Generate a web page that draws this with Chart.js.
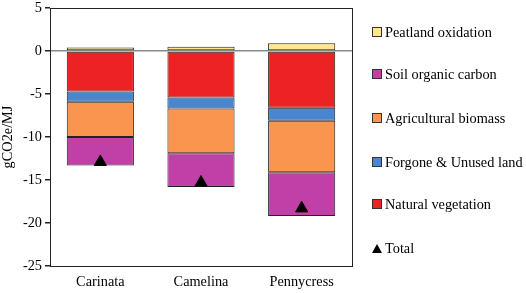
<!DOCTYPE html>
<html>
<head>
<meta charset="utf-8">
<script src="https://cdn.jsdelivr.net/npm/chart.js@4.4.1/dist/chart.umd.min.js"></script>
<style>
  body { margin: 0; background: #fff; }
  #wrap { position: relative; width: 526px; height: 293px; }
  #legend { position: absolute; left: 372px; top: 0; font-family: "Liberation Serif", "DejaVu Serif", serif; font-size: 14.3px; color: #000; }
  .item { position: absolute; white-space: nowrap; height: 16px; line-height: 16px; }
  .box { display: inline-block; width: 8px; height: 8px; border: 1px solid #333; margin-right: 3px; vertical-align: 0px; }
  .tri { display: inline-block; width: 0; height: 0; border-left: 5px solid transparent; border-right: 5px solid transparent; border-bottom: 9px solid #000; margin-right: 3px; vertical-align: 0px; }
</style>
</head>
<body>
<div id="wrap">
  <canvas id="chart" width="526" height="293"></canvas>
  <div id="legend"></div>
</div>
<script>
// Data
const crops = ["Carinata", "Camelina", "Pennycress"];
const naturalVegetation = [-4.7, -5.4, -6.6];
const forgoneLand = [-1.2, -1.3, -1.5];
const agriculturalBiomass = [-4.1, -5.2, -6.0];
const soilOrganicCarbon = [-3.3, -3.9, -5.1];
const peatlandOxidation = [0.4, 0.5, 0.9];
const totals = [-12.9, -15.3, -18.3];
const yTicks = [5, 0, -5, -10, -15, -20, -25];

const font = { family: "'Liberation Serif', 'DejaVu Serif', serif", size: 14.3 };

const barSeries = [
  { label: "Natural vegetation", data: naturalVegetation, color: "#ED2224" },
  { label: "Forgone & Unused land", data: forgoneLand, color: "#4A86D0" },
  { label: "Agricultural biomass", data: agriculturalBiomass, color: "#F9954E" },
  { label: "Soil organic carbon", data: soilOrganicCarbon, color: "#C040A8" },
  { label: "Peatland oxidation", data: peatlandOxidation, color: "#FFE68A" },
];

const datasets = barSeries.map((s) => ({
  type: "bar",
  label: s.label,
  data: s.data,
  backgroundColor: s.color,
  borderColor: "#222",
  borderWidth: 1,
  borderSkipped: false,
  barPercentage: 0.667,
  categoryPercentage: 1,
  stack: "lu",
  order: 2,
}));

datasets.push({
  type: "line",
  label: "Total",
  data: totals,
  showLine: false,
  pointStyle: "triangle",
  pointRadius: 7,
  pointBackgroundColor: "#000",
  pointBorderColor: "#000",
  stack: "total",
  order: 1,
});

// Box around the plot area
const frame = {
  id: "frame",
  afterDraw(chart) {
    const { ctx, chartArea: a } = chart;
    ctx.save();
    ctx.strokeStyle = "#222";
    ctx.lineWidth = 1;
    ctx.strokeRect(a.left + 0.5, a.top + 0.5, a.right - a.left, a.bottom - a.top);
    ctx.restore();
  },
};

new Chart(document.getElementById("chart"), {
  data: { labels: crops, datasets },
  plugins: [frame],
  options: {
    responsive: false,
    animation: false,
    layout: { padding: { left: 0, right: 174, top: 7, bottom: 0 } },
    plugins: { legend: { display: false }, tooltip: { enabled: false } },
    scales: {
      x: {
        stacked: true,
        grid: { display: false, drawTicks: false },
        border: { color: "#222" },
        ticks: { color: "#000", font, padding: 8 },
        afterFit: (scale) => { scale.height = 27; },
      },
      y: {
        stacked: true,
        min: -25,
        max: 5,
        afterBuildTicks: (scale) => { scale.ticks = yTicks.map((v) => ({ value: v })); },
        grid: {
          color: (c) => (c.tick && c.tick.value === 0 ? "#888" : "rgba(0,0,0,0)"),
          tickColor: "#222",
          tickLength: 5,
          lineWidth: 1.5,
        },
        border: { color: "#222" },
        ticks: { color: "#000", font, padding: 3 },
        title: { display: true, text: "gCO2e/MJ", color: "#000", font, padding: 0 },
        afterFit: (scale) => {
          scale.width = 50;
          scale.paddingTop = 0;
          scale.paddingBottom = 0;
        },
      },
    },
  },
});

// Legend (reversed order as in the figure)
const legend = document.getElementById("legend");
const legendTops = [24, 66, 110, 154, 196, 240];
barSeries.slice().reverse().forEach((s, i) => {
  const el = document.createElement("div");
  el.className = "item";
  el.style.top = legendTops[i] + "px";
  el.innerHTML = '<span class="box" style="background:' + s.color + '"></span>' + s.label;
  legend.appendChild(el);
});
const t = document.createElement("div");
t.className = "item";
t.style.top = legendTops[5] + "px";
t.innerHTML = '<span class="tri"></span>Total';
legend.appendChild(t);
</script>
</body>
</html>
